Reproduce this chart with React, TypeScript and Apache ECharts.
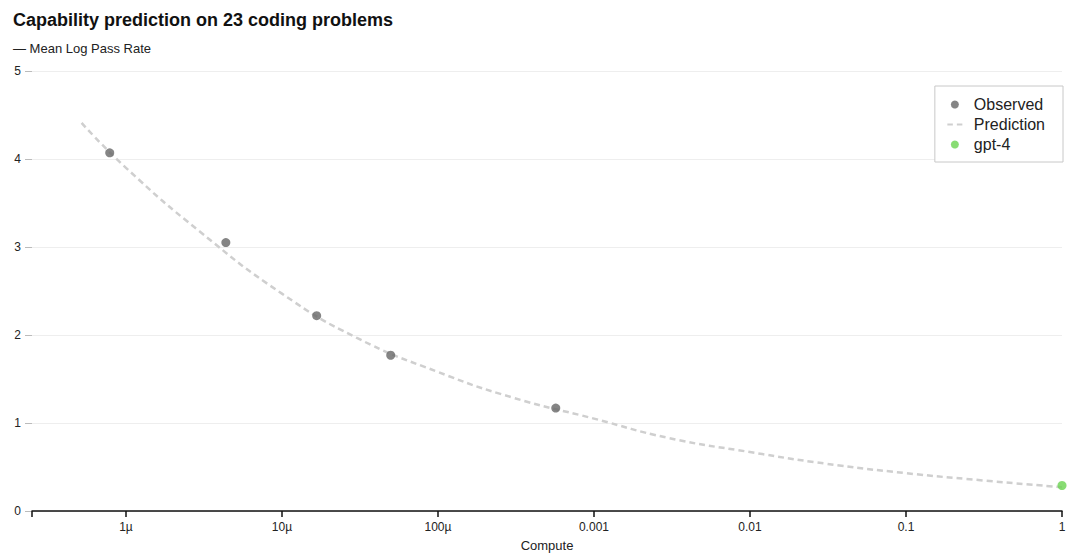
import React, { useEffect, useRef } from "react";
import * as echarts from "echarts";

const titleText = "Capability prediction on 23 coding problems";
const subtitleText = "— Mean Log Pass Rate";
const xAxisName = "Compute";

const observedCompute = [7.87e-7, 4.37e-6, 1.67e-5, 4.98e-5, 5.69e-4];
const observedValue = [4.07, 3.05, 2.22, 1.77, 1.17];

const predictionCompute = [5.2e-7, 1e-6, 3e-6, 1e-5, 3e-5, 1e-4, 3e-4, 1e-3, 3e-3, 1e-2, 3e-2, 1e-1, 3e-1, 1];
const predictionValue = [4.41, 3.9, 3.17, 2.47, 1.97, 1.58, 1.29, 1.05, 0.83, 0.67, 0.54, 0.43, 0.35, 0.27];

const gpt4Compute = [1];
const gpt4Value = [0.29];

const xTickValues = [1e-6, 1e-5, 1e-4, 1e-3, 1e-2, 1e-1, 1];
const xTickLabels = ["1µ", "10µ", "100µ", "0.001", "0.01", "0.1", "1"];

const FONT = "'Liberation Sans', Arial, Helvetica, sans-serif";

export default function App() {
  const ref = useRef<HTMLDivElement>(null);

  useEffect(() => {
    if (!ref.current) return;
    const chart = echarts.init(ref.current, undefined, { renderer: "svg" });
    const labelFor = (v: number) => {
      for (let i = 0; i < xTickValues.length; i++) {
        if (Math.abs(Math.log10(v) - Math.log10(xTickValues[i])) < 1e-6) return xTickLabels[i];
      }
      return "";
    };
    chart.setOption({
      animation: false,
      textStyle: { fontFamily: FONT },
      title: [
        {
          text: titleText,
          left: 13,
          top: 11,
          padding: 0,
          textStyle: { fontFamily: FONT, fontSize: 18, fontWeight: "bold", color: "#111" },
        },
        {
          text: subtitleText,
          left: 13,
          top: 42,
          padding: 0,
          textStyle: { fontFamily: FONT, fontSize: 13, fontWeight: "normal", color: "#222" },
        },
      ],
      legend: {
        orient: "vertical",
        right: 17,
        top: 86,
        data: [
          { name: "Observed", icon: "circle" },
          { name: "Prediction", icon: "path://M0,0 L5.5,0 L5.5,2 L0,2 Z M9.5,0 L15,0 L15,2 L9.5,2 Z" },
          { name: "gpt-4", icon: "circle" },
        ],
        backgroundColor: "#fff",
        borderColor: "#c8c8c8",
        borderWidth: 1,
        borderRadius: 0,
        padding: [10, 18, 9, 12.5],
        itemWidth: 15,
        itemHeight: 8,
        itemGap: 3,
        textStyle: { fontFamily: FONT, fontSize: 16, color: "#222", lineHeight: 17, padding: [0, 0, 0, 6.5] },
      },
      grid: { left: 32, right: 18, top: 71, bottom: 44, containLabel: false, outerBoundsMode: "none" },
      xAxis: {
        type: "log",
        logBase: 10,
        min: 2.5e-7,
        max: 1,
        splitNumber: 7,
        name: xAxisName,
        nameLocation: "middle",
        nameGap: 28,
        nameTextStyle: { fontFamily: FONT, fontSize: 13, color: "#222" },
        axisLine: { show: true, onZero: false, lineStyle: { color: "#111", width: 1.5 } },
        axisTick: { show: true, inside: false, length: 6, lineStyle: { color: "#111", width: 1.5 } },
        axisLabel: { fontFamily: FONT, fontSize: 12, color: "#222", margin: 10, formatter: (v: number) => labelFor(v) },
        splitLine: { show: false },
        minorTick: { show: false },
      },
      yAxis: {
        type: "value",
        min: 0,
        max: 5,
        interval: 1,
        axisLine: { show: false },
        axisTick: { show: true, length: 7, lineStyle: { color: "#bbb", width: 1 } },
        axisLabel: { fontFamily: FONT, fontSize: 12, color: "#222", margin: 11 },
        splitLine: { show: true, lineStyle: { color: "#eeeeee", width: 1 } },
      },
      series: [
        {
          name: "Prediction",
          type: "line",
          data: predictionCompute.map((c, i) => [c, predictionValue[i]]),
          smooth: true,
          symbol: "none",
          showSymbol: false,
          lineStyle: { color: "#cfcfcf", width: 2.5, type: [6, 4] },
          itemStyle: { color: "#cfcfcf" },
          z: 1,
        },
        {
          name: "Observed",
          type: "scatter",
          data: observedCompute.map((c, i) => [c, observedValue[i]]),
          symbol: "circle",
          symbolSize: 9,
          itemStyle: { color: "#666666" },
          z: 3,
        },
        {
          name: "gpt-4",
          type: "scatter",
          data: gpt4Compute.map((c, i) => [c, gpt4Value[i]]),
          symbol: "circle",
          symbolSize: 9,
          itemStyle: { color: "#6ad350" },
          z: 3,
        },
      ],
    });
    return () => chart.dispose();
  }, []);

  return <div ref={ref} style={{ width: 1080, height: 555, position: "absolute", left: 0, top: 0 }} />;
}
